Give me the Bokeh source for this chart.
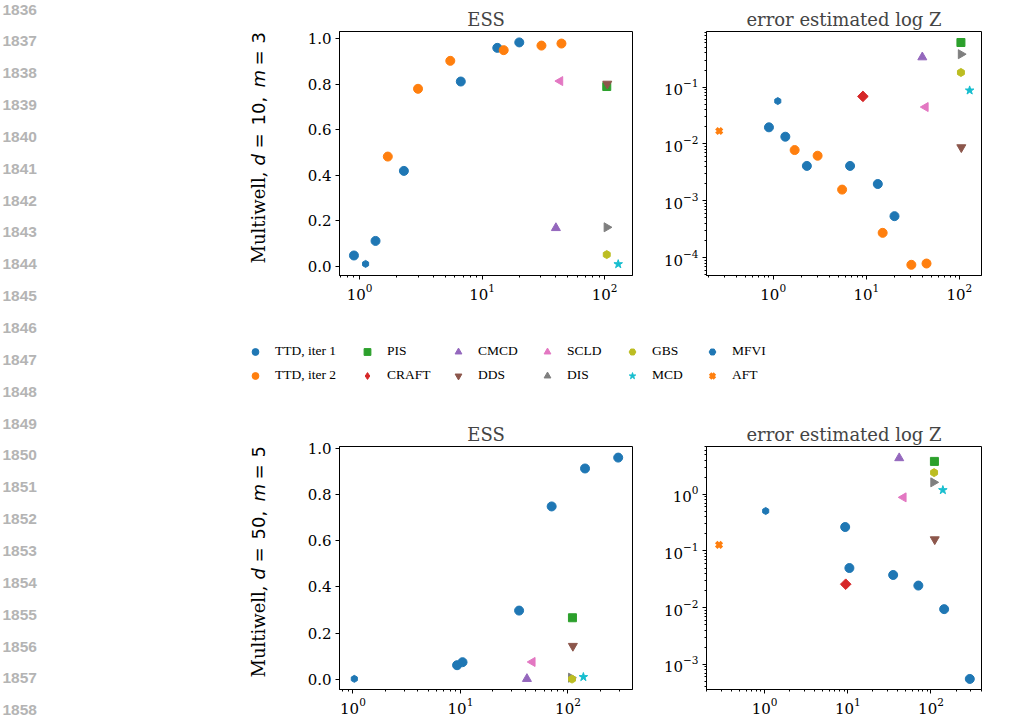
import math
from bokeh.plotting import figure
from bokeh.layouts import row, column
from bokeh.models import (Range1d, FixedTicker, NumeralTickFormatter, LogTicker,
                          Legend, LegendItem)
from bokeh.core.properties import value
from bokeh.embed import file_html
from bokeh.resources import INLINE

# ---------------- data ----------------
methods = ["TTD, iter 1", "TTD, iter 2", "PIS", "CRAFT", "CMCD", "DDS",
           "SCLD", "DIS", "GBS", "MCD", "MFVI", "AFT"]
colors = ["#1f77b4", "#ff7f0e", "#2ca02c", "#d62728", "#9467bd", "#8c564b",
          "#e377c2", "#7f7f7f", "#bcbd22", "#17becf", "#1f77b4", "#ff7f0e"]

# Multiwell d=10, m=3
d10_ttd1_x = [0.9, 1.35, 2.3, 6.7, 13.3, 20.1]
d10_ttd1_ess = [0.047, 0.111, 0.419, 0.812, 0.96, 0.984]
d10_ttd1_err = [0.0196, 0.0134, 0.0041, 0.0041, 0.00197, 0.000535]
d10_ttd2_x = [1.7, 3.0, 5.5, 15.0, 30.5, 44.4]
d10_ttd2_ess = [0.482, 0.78, 0.903, 0.95, 0.97, 0.979]
d10_ttd2_err = [0.0078, 0.0062, 0.00157, 0.000272, 7.45e-5, 7.85e-5]
baselines = ["PIS", "CRAFT", "CMCD", "DDS", "SCLD", "DIS", "GBS", "MCD", "MFVI", "AFT"]
d10_base_x = [104, 9.2, 40, 105, 43.3, 104, 104, 129, 1.12, 0.263]
d10_base_ess = [0.79, None, 0.168, 0.802, 0.814, 0.171, 0.051, 0.009, 0.01, None]
d10_base_err = [0.61, 0.0687, 0.336, 0.0087, 0.0446, 0.38, 0.181, 0.0875, 0.0568, 0.0169]

# Multiwell d=50, m=5
d50_ttd1_x = [9.3, 10.45, 35.1, 70.5, 144, 293]
d50_ttd1_ess = [0.062, 0.075, 0.298, 0.748, 0.912, 0.959]
d50_ttd1_err = [0.265, 0.050, 0.0377, 0.0245, 0.0094, 0.00055]
d50_base_x = [110, 9.44, 41.5, 111, 46.7, 107, 109, 139, 1.03, 0.283]
d50_base_ess = [0.267, None, 0.003, 0.145, 0.076, 0.008, 0.002, 0.011, 0.003, None]
d50_base_err = [3.82, 0.0259, 4.37, 0.16, 0.885, 1.63, 2.42, 1.19, 0.508, 0.128]

ess_ticks = [0.0, 0.2, 0.4, 0.6, 0.8, 1.0]
line_numbers = list(range(1836, 1859))

# ---------------- styles ----------------
marker_style = {
    "TTD, iter 1": dict(marker="circle", size=9, angle=0),
    "TTD, iter 2": dict(marker="circle", size=9, angle=0),
    "PIS": dict(marker="square", size=8, angle=0),
    "CRAFT": dict(marker="square", size=7.5, angle=math.pi / 4),
    "CMCD": dict(marker="triangle", size=9, angle=0),
    "DDS": dict(marker="inverted_triangle", size=9, angle=0),
    "SCLD": dict(marker="triangle", size=9, angle=math.pi / 2),
    "DIS": dict(marker="triangle", size=9, angle=-math.pi / 2),
    "GBS": dict(marker="hex", size=8, angle=math.pi / 6),
    "MCD": dict(marker="star", size=9, angle=0),
    "MFVI": dict(marker="hex", size=7, angle=math.pi / 6),
    "AFT": dict(marker="x", size=8, angle=0),
}
SERIF = "DejaVu Serif"
SANS = "DejaVu Sans"

# page geometry (pixels)
TOP_H, MID_Y0, MID_Y1, PAGE_H = 318, 318, 405, 719


def marker_kw(name, legend=False):
    c = colors[methods.index(name)]
    st = marker_style[name]
    if st["marker"] == "x":
        return dict(marker="x", angle=st["angle"], line_color=c, line_width=3.5)
    mk = st["marker"]
    if legend and name == "CRAFT":
        mk = "diamond"
    return dict(marker=mk, angle=st["angle"], fill_color=c, line_color=c)


def style_panel(p, title, ylog):
    p.title.text = title
    p.title.align = "center"
    p.title.text_font = SERIF
    p.title.text_font_size = "18px"
    p.title.text_font_style = "normal"
    p.title.standoff = 3
    p.grid.visible = False
    p.outline_line_color = "black"
    p.outline_line_alpha = 1.0
    p.outline_line_width = 1
    for ax in (p.xaxis[0], p.yaxis[0]):
        ax.axis_line_color = "black"
        ax.major_tick_line_color = "black"
        ax.minor_tick_line_color = "black"
        ax.major_tick_in = 0
        ax.major_tick_out = 4
        ax.minor_tick_in = 0
        ax.minor_tick_out = 2
        ax.major_label_text_font = SERIF
        ax.major_label_text_font_size = "15px"
        ax.major_label_text_color = "black"
        ax.major_label_standoff = 4
    p.xaxis[0].ticker = LogTicker(num_minor_ticks=10)
    if ylog:
        p.yaxis[0].ticker = LogTicker(num_minor_ticks=10)
    else:
        p.yaxis[0].ticker = FixedTicker(ticks=ess_ticks)
        p.yaxis[0].formatter = NumeralTickFormatter(format="0.0")
        p.yaxis[0].minor_tick_out = 0


def add_points(p, name, xs, ys):
    pts = [(x, y) for x, y in zip(xs, ys) if y is not None]
    if not pts:
        return
    p.scatter([a for a, _ in pts], [b for _, b in pts],
              size=marker_style[name]["size"], **marker_kw(name))


def panel(width, height, bl, br, bt, bb, xr, yr, ylog, title, series):
    p = figure(width=width, height=height, x_axis_type="log",
               y_axis_type="log" if ylog else "linear",
               x_range=Range1d(*xr), y_range=Range1d(*yr),
               output_backend="svg", toolbar_location=None,
               min_border_left=bl, min_border_right=br,
               min_border_top=bt, min_border_bottom=bb)
    style_panel(p, title, ylog)
    for name, xs, ys in series:
        add_points(p, name, xs, ys)
    return p


def series_for(ttd1, ttd2, bx, by):
    s = [("TTD, iter 1",) + ttd1]
    if ttd2 is not None:
        s.append(("TTD, iter 2",) + ttd2)
    for n, x, y in zip(baselines, bx, by):
        s.append((n, [x], [y]))
    return s


BOT_H = PAGE_H - MID_Y1
tl = panel(360, TOP_H, 39, 28, 31, TOP_H - 275, (0.686, 168.7), (-0.041, 1.032), False,
           "ESS",
           series_for((d10_ttd1_x, d10_ttd1_ess), (d10_ttd2_x, d10_ttd2_ess),
                      d10_base_x, d10_base_ess))
tr = panel(350, TOP_H, 29, 29, 31, TOP_H - 275, (0.192, 173), (4.83e-5, 0.953), True,
           "error estimated log Z",
           series_for((d10_ttd1_x, d10_ttd1_err), (d10_ttd2_x, d10_ttd2_err),
                      d10_base_x, d10_base_err))
bl = panel(360, BOT_H, 39, 28, 446 - MID_Y1, 30, (0.75, 398), (-0.043, 1.007), False,
           "ESS",
           series_for((d50_ttd1_x, d50_ttd1_ess), None, d50_base_x, d50_base_ess))
br = panel(350, BOT_H, 29, 29, 446 - MID_Y1, 30, (0.2, 405), (3.58e-4, 7.0), True,
           "error estimated log Z",
           series_for((d50_ttd1_x, d50_ttd1_err), None, d50_base_x, d50_base_err))


# ---------------- helper figures (page-pixel coordinates) ----------------
def line_y(n):
    return 9.0 + 31.85 * (n - 1836)


def helper(x0, x1, y0, y1):
    h = figure(width=x1 - x0, height=y1 - y0, x_range=Range1d(x0, x1),
               y_range=Range1d(y1, y0), output_backend="svg",
               toolbar_location=None, min_border=0, title=None,
               x_axis_location=None, y_axis_location=None)
    h.extra_y_ranges = {"hidden": Range1d(1e6, 2e6)}
    h.grid.visible = False
    h.outline_line_color = None
    nums = [n for n in line_numbers if y0 <= line_y(n) < y1]
    h.text(x=[2] * len(nums), y=[line_y(n) for n in nums],
           text=[str(n) for n in nums], text_font=value("Liberation Sans"),
           text_font_style="bold", text_font_size="15.5px", text_color="#b4b4b4",
           text_align="left", text_baseline="middle")
    return h


def legend_column(h, names, xs_list, ys_list, loc):
    items = []
    for name, xs, ys in zip(names, xs_list, ys_list):
        pts = [(x, y) for x, y in zip(xs, ys) if y is not None]
        r = h.scatter([a for a, _ in pts], [b for _, b in pts], y_range_name="hidden",
                      size=marker_style[name]["size"], **marker_kw(name, legend=True))
        items.append(LegendItem(label=name, renderers=[r]))
    lg = Legend(items=items, location=loc, orientation="vertical",
                padding=0, margin=0, spacing=4, glyph_width=20, glyph_height=17,
                label_height=20, label_standoff=10, border_line_color=None,
                background_fill_alpha=0, label_text_font="Liberation Serif",
                label_text_font_size="13.5px", label_text_color="black")
    h.add_layout(lg, "center")


def ylabel(h, ystart, dval, mval):
    pieces = [("Multiwell,", SERIF, "normal", 0),
              ("d", SANS, "italic", 98),
              ("=", SANS, "normal", 115),
              (dval + ",", SANS, "normal", 138),
              ("m", SANS, "italic", 176),
              ("=", SANS, "normal", 198),
              (mval, SANS, "normal", 220)]
    for txt, font, style, off in pieces:
        h.text(x=[258], y=[ystart - off], text=[txt], text_font=value(font),
               text_font_style=style, text_font_size="18px", text_color="black",
               angle=math.pi / 2, text_align="left", text_baseline="middle")


lt = helper(0, 300, 0, TOP_H)
ylabel(lt, 263, "10", "3")
lb = helper(0, 300, MID_Y1, PAGE_H)
ylabel(lb, 677, "50", "5")

mid = helper(0, 1010, MID_Y0, MID_Y1)
col_x = [255, 367, 458, 547, 632, 712]
for ci in range(6):
    names = methods[ci * 2: ci * 2 + 2]
    if ci == 0:
        xs_list = [d10_ttd1_x, d10_ttd2_x]
        ys_list = [d10_ttd1_err, d10_ttd2_err]
    else:
        xs_list = [[d10_base_x[baselines.index(n)]] for n in names]
        ys_list = [[d10_base_err[baselines.index(n)]] for n in names]
    legend_column(mid, names, xs_list, ys_list, (col_x[ci] - 10, MID_Y1 - 385))

top = row(column(lt), tl, tr)
bottom = row(column(lb), bl, br)
layout = column(top, mid, bottom)
open("out.html", "w").write(file_html(layout, INLINE))
